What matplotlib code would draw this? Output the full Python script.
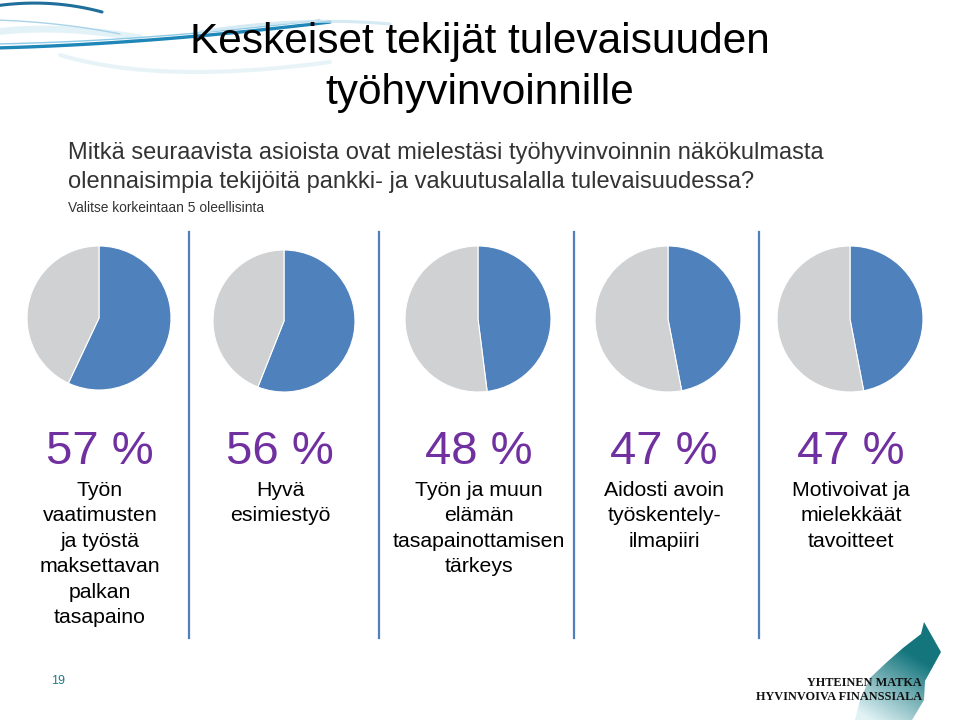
import matplotlib.pyplot as plt
import numpy as np
from matplotlib.patches import Polygon

plt.rcParams['font.family'] = ['Liberation Sans', 'DejaVu Sans']

# data
values = [57, 56, 48, 47, 47]
pct_labels = ['57 %', '56 %', '48 %', '47 %', '47 %']
names = ['Työn\nvaatimusten\nja työstä\nmaksettavan\npalkan\ntasapaino',
         'Hyvä\nesimiestyö',
         'Työn ja muun\nelämän\ntasapainottamisen\ntärkeys',
         'Aidosti avoin\ntyöskentely-\nilmapiiri',
         'Motivoivat ja\nmielekkäät\ntavoitteet']

blue = '#4F81BD'
grey = '#D0D1D3'
purple = '#7030A0'

W, H = 960, 720
fig = plt.figure(figsize=(9.6, 7.2), dpi=100)
bg = fig.add_axes([0, 0, 1, 1])
bg.axis('off')


def curve(p0, p1, p2, **kw):
    # neliöllinen bezier-käyrä koristeviivoille
    t = np.linspace(0, 1, 120)[:, None]
    pts = (1 - t) ** 2 * np.array(p0) + 2 * (1 - t) * t * np.array(p1) + t ** 2 * np.array(p2)
    bg.plot(pts[:, 0], pts[:, 1], solid_capstyle='round', **kw)


# koristeviivat vasemmassa yläkulmassa
curve((-5, 6), (50, -2), (102, 12), color='#1F6E9C', lw=2.2)
curve((-5, 32), (60, 24), (140, 38), color='#DDEFF6', lw=5, alpha=0.8)
curve((-5, 20), (60, 22), (120, 34), color='#A8D3E8', lw=1.0)
curve((-5, 48), (150, 44), (330, 22), color='#1F86B8', lw=2.4)
curve((-5, 44), (150, 41), (320, 20), color='#8ECAE6', lw=1.0)
curve((60, 55), (160, 85), (330, 62), color='#E3F1F7', lw=3, alpha=0.8)
curve((200, 32), (300, 16), (390, 24), color='#CBE5F1', lw=2.2, alpha=0.8)

# otsikot
bg.text(480, 42, 'Keskeiset tekijät tulevaisuuden', fontsize=30.5, ha='center', va='center')
bg.text(480, 93, 'työhyvinvoinnille', fontsize=30.5, ha='center', va='center')
bg.text(68, 153, 'Mitkä seuraavista asioista ovat mielestäsi työhyvinvoinnin näkökulmasta',
        fontsize=17, color='#333333', va='center')
bg.text(68, 182, 'olennaisimpia tekijöitä pankki- ja vakuutusalalla tulevaisuudessa?',
        fontsize=17, color='#333333', va='center')
bg.text(68, 208, 'Valitse korkeintaan 5 oleellisinta', fontsize=9.9, color='#333333', va='center')

# pystyviivat
for x in [189, 379, 574, 759]:
    bg.plot([x, x], [232, 638], color='#4F7FBF', lw=1.6)

pie_cx = [99, 284, 478, 668, 850]
pie_cy = [318, 321, 319, 319, 319]
pie_r = [72, 71, 73, 73, 73]
txt_cx = [100, 280, 479, 664, 851]

for v, cx, cy, r in zip(values, pie_cx, pie_cy, pie_r):
    ax = fig.add_axes([(cx - r) / W, 1 - (cy + r) / H, 2 * r / W, 2 * r / H])
    ax.pie([v, 100 - v], colors=[blue, grey], startangle=90, counterclock=False,
           radius=1, wedgeprops=dict(linewidth=0.8, edgecolor='white'))
    ax.set_xlim(-1, 1)
    ax.set_ylim(-1, 1)
    ax.set_aspect('auto')

for p, name, x in zip(pct_labels, names, txt_cx):
    bg.text(x, 452, p, fontsize=34, color=purple, ha='center', va='center')
    bg.text(x, 481, name, fontsize=15.3, ha='center', va='top', linespacing=1.43)

# sivunumero
bg.text(58, 681, '19', fontsize=9, color='#1F7A8C', ha='center', va='center')

# logo: nuoli liukuvärillä
arrow = Polygon([(924, 622), (941, 652), (925, 681), (924, 700), (912, 720), (855, 720),
                 (860, 700), (870, 678), (887, 662), (903, 648), (921, 634)],
                closed=True, facecolor='none', edgecolor='none')
bg.add_patch(arrow)
yy = np.linspace(0, 1, 100)[:, None]
xx = np.linspace(0, 1, 90)[None, :]
k = np.clip(1.3 - 1.1 * yy + 0.6 * xx - 0.3, 0, 1)
teal = np.array([0.08, 0.46, 0.49])
img = np.ones((100, 90, 4))
img[..., :3] = (1 - k[..., None]) * np.array([0.88, 0.95, 0.96]) + k[..., None] * teal
im = bg.imshow(img, extent=[855, 945, 720, 620], origin='upper', aspect='auto',
               interpolation='bilinear')
im.set_clip_path(arrow)
bg.text(922, 683, 'YHTEINEN MATKA', fontsize=8.8, fontweight='bold', family='Liberation Serif',
        ha='right', va='center', color='#111111')
bg.text(922, 697, 'HYVINVOIVA FINANSSIALA', fontsize=8.8, fontweight='bold',
        family='Liberation Serif', ha='right', va='center', color='#111111')

bg.set_xlim(0, W)
bg.set_ylim(H, 0)

fig.savefig('out.png', dpi=100)
